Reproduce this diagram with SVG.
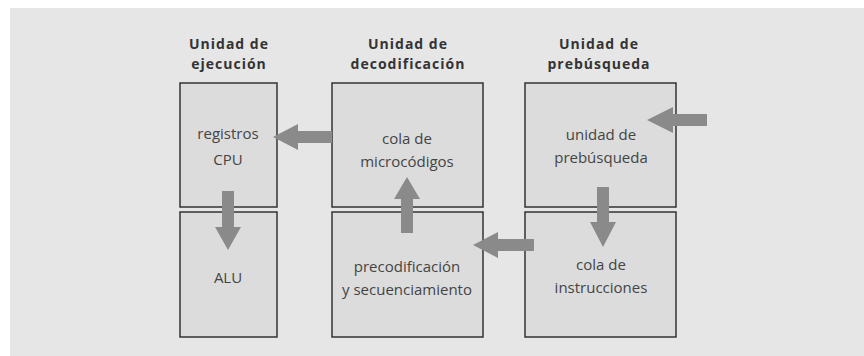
<svg xmlns="http://www.w3.org/2000/svg" width="864" height="356" viewBox="0 0 864 356">
<style>
.title{font-family:"Open Sans","DejaVu Sans",sans-serif;font-weight:bold;font-size:14px;fill:#333;letter-spacing:1px;text-anchor:middle}
.lbl{font-family:"Open Sans","DejaVu Sans",sans-serif;font-size:15px;fill:#444;text-anchor:middle}
.box{fill:#dcdcdc;stroke:#333;stroke-width:1.5}
.arr{fill:#8a8a8a}
</style>
<rect x="0" y="0" width="864" height="356" fill="#ffffff"/>
<rect x="10" y="8" width="854" height="348" fill="#e6e6e7"/>
<g id="col-ejecucion">
<text class="title" x="229" y="49">Unidad de</text>
<text class="title" x="229" y="69">ejecución</text>
</g>
<g id="col-decodificacion">
<text class="title" x="408" y="49">Unidad de</text>
<text class="title" x="408" y="69">decodificación</text>
</g>
<g id="col-prebusqueda">
<text class="title" x="599" y="49">Unidad de</text>
<text class="title" x="599" y="69">prebúsqueda</text>
</g>
<g id="registros">
<rect class="box" x="180" y="83" width="97" height="124"/>
<text class="lbl" x="228" y="139">registros</text>
<text class="lbl" x="228" y="165">CPU</text>
</g>
<g id="alu">
<rect class="box" x="180" y="212" width="97" height="125"/>
<text class="lbl" x="228" y="283">ALU</text>
</g>
<g id="microcodigos">
<rect class="box" x="332" y="83" width="151" height="124"/>
<text class="lbl" x="407" y="144">cola de</text>
<text class="lbl" x="407" y="167">microcódigos</text>
</g>
<g id="precodificacion">
<rect class="box" x="332" y="212" width="151" height="125"/>
<text class="lbl" x="407" y="272">precodificación</text>
<text class="lbl" x="407" y="295">y secuenciamiento</text>
</g>
<g id="unidad-prebusqueda">
<rect class="box" x="525" y="83" width="151" height="124"/>
<text class="lbl" x="601" y="140">unidad de</text>
<text class="lbl" x="601" y="163">prebúsqueda</text>
</g>
<g id="instrucciones">
<rect class="box" x="525" y="212" width="151" height="125"/>
<text class="lbl" x="601" y="270">cola de</text>
<text class="lbl" x="601" y="293">instrucciones</text>
</g>
<g id="connectors">
<polygon class="arr" points="273,137 298,124 298,131 332,131 332,143 298,143 298,150"/>
<polygon class="arr" points="228,250 215,227 222,227 222,191 234,191 234,227 241,227"/>
<polygon class="arr" points="407,177 394,199 401,199 401,233 413,233 413,199 420,199"/>
<polygon class="arr" points="603,247 590,222 597,222 597,187 609,187 609,222 616,222"/>
<polygon class="arr" points="647,120 673,107 673,114 707,114 707,126 673,126 673,133"/>
<polygon class="arr" points="473,245 498,232 498,239 534,239 534,251 498,251 498,258"/>
</g>
</svg>
